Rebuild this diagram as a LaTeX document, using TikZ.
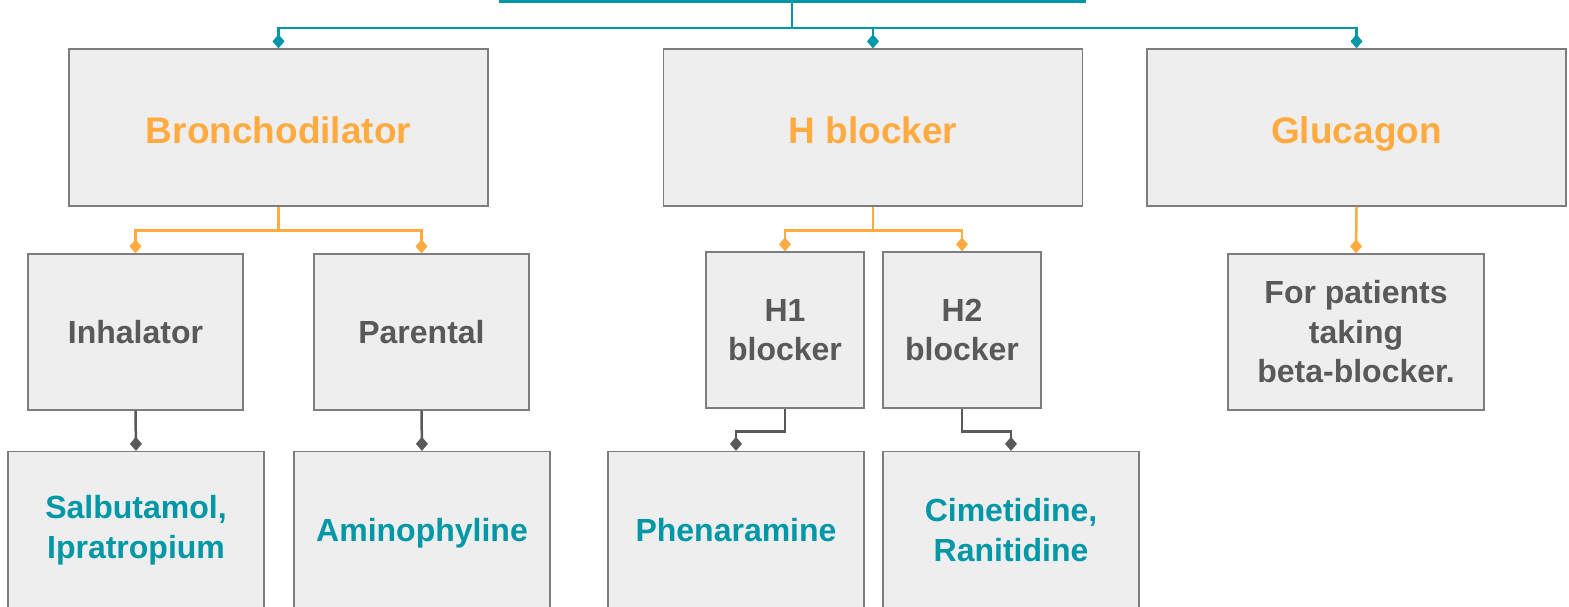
\documentclass[tikz,border=0pt]{standalone}
\usepackage{fontspec}
\setmainfont{Liberation Sans}
\usetikzlibrary{arrows.meta}
\definecolor{tealblue}{RGB}{0, 151, 167}
\definecolor{amber}{RGB}{255, 171, 64}
\definecolor{slate}{RGB}{89, 89, 89}
\definecolor{boxbg}{RGB}{238, 238, 238}
\definecolor{boxline}{RGB}{125, 125, 125}

\begin{document}
\begin{tikzpicture}[x=1pt, y=-1pt, every node/.style={align=center, inner sep=0pt}]
    \tikzstyle{block} = [draw=boxline, fill=boxbg, rectangle, line width=1.3pt]
    \tikzstyle{group} = [block, minimum width=419pt, minimum height=157pt, text=amber, text height=32pt, text depth=0pt, font=\bfseries\fontsize{37}{44}\selectfont]
    \tikzstyle{kind} = [block, minimum height=156pt, text=slate, font=\bfseries\fontsize{32}{39.5}\selectfont]
    \tikzstyle{drug} = [block, minimum width=256pt, minimum height=157pt, text=tealblue, font=\bfseries\fontsize{32}{39.5}\selectfont]
    \tikzstyle{oneline} = [text height=22pt, text depth=0pt]
    \tikzstyle{tiplink} = [line width=2.5pt, -{Diamond[length=14pt, width=12pt]}]
    \tikzstyle{toplink} = [tiplink, draw=tealblue]
    \tikzstyle{midlink} = [tiplink, draw=amber]
    \tikzstyle{lowlink} = [tiplink, draw=slate]

    \useasboundingbox (0,0) rectangle (1569,606);
    \clip (0,0) rectangle (1569,606);

    % Nodes
    \node (root) [draw=tealblue, line width=3pt, minimum width=584pt, minimum height=100pt] at (792,-48.5) {};
    \node (bron) [group] at (278.5,127.5) {Bronchodilator};
    \node (hblock) [group] at (873,127.5) {H blocker};
    \node (gluc) [group] at (1356.5,127.5) {Glucagon};

    \node (inhal) [kind, oneline, minimum width=215pt] at (135.5,332) {Inhalator};
    \node (paren) [kind, oneline, minimum width=215pt] at (421.5,332) {Parental};
    \node (hone) [kind, minimum width=158pt] at (785,330) {H1\\blocker};
    \node (htwo) [kind, minimum width=158pt] at (962,330) {H2\\blocker};
    \node (beta) [kind, minimum width=256pt] at (1356,332) {For patients\\taking\\beta-blocker.};

    \node (salb) [drug] at (136,530) {Salbutamol,\\Ipratropium};
    \node (amino) [drug, oneline] at (422,530) {Aminophyline};
    \node (phen) [drug, oneline] at (736,530) {Phenaramine};
    \node (cime) [drug] at (1011,530) {Cimetidine,\\Ranitidine};

    % Arrows
    \draw [toplink] (root.south) -- ++(0,25) -| (bron.north);
    \draw [toplink] (root.south) -- ++(0,25) -| (hblock.north);
    \draw [toplink] (root.south) -- ++(0,25) -| (gluc.north);
    \draw [midlink] (bron.south) -- ++(0,24) -| (inhal.north);
    \draw [midlink] (bron.south) -- ++(0,24) -| (paren.north);
    \draw [midlink] (hblock.south) -- ++(0,24) -| (hone.north);
    \draw [midlink] (hblock.south) -- ++(0,24) -| (htwo.north);
    \draw [midlink] (gluc.south) -- (beta.north);
    \draw [lowlink] (inhal.south) -- (salb.north);
    \draw [lowlink] (paren.south) -- (amino.north);
    \draw [lowlink] (hone.south) -- ++(0,23) -| (phen.north);
    \draw [lowlink] (htwo.south) -- ++(0,23) -| (cime.north);
\end{tikzpicture}
\end{document}
